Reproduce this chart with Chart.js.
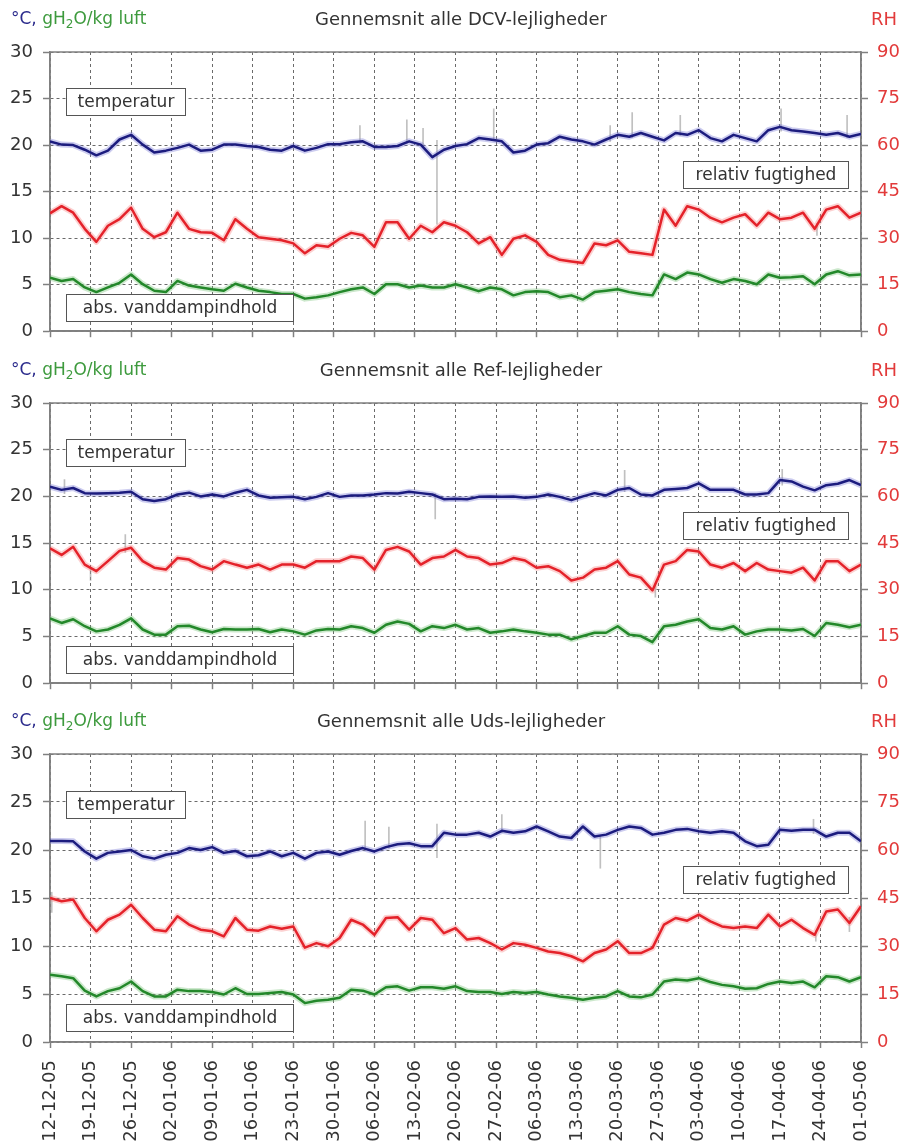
<!DOCTYPE html>
<html>
<head>
<meta charset="utf-8">
<title>Gennemsnit alle lejligheder</title>
<script src="https://cdn.jsdelivr.net/npm/chart.js@4.4.1/dist/chart.umd.min.js"></script>
<style>
  body { margin: 0; background: #fff; }
  #wrap { position: relative; width: 902px; height: 1147px; }
  #wrap canvas { position: absolute; left: 0; }
</style>
</head>
<body>
<div id="wrap">
  <canvas id="dcvChart" width="902" height="352" style="top:0"></canvas>
  <canvas id="refChart" width="902" height="352" style="top:352px"></canvas>
  <canvas id="udsChart" width="902" height="443" style="top:704px"></canvas>
</div>
<script>
// Week ticks on the shared time axis (one gridline every 7 days)
const weekLabels = ['12-12-05', '19-12-05', '26-12-05', '02-01-06', '09-01-06', '16-01-06', '23-01-06',
  '30-01-06', '06-02-06', '13-02-06', '20-02-06', '27-02-06', '06-03-06', '13-03-06', '20-03-06',
  '27-03-06', '03-04-06', '10-04-06', '17-04-06', '24-04-06', '01-05-06'];

// Readings are taken every 2nd day from 12-12-05
const STEP_DAYS = 2;

// DCV apartments: temperature (°C), RH (%), absolute humidity (g/kg)
const dcvTemp = [20.4, 20.05, 20.0, 19.5, 18.9, 19.4, 20.6, 21.1, 20.05, 19.2, 19.4, 19.7, 20.05, 19.4, 19.5, 20.05, 20.05, 19.9,
  19.8, 19.5, 19.4, 19.9, 19.4, 19.7, 20.1, 20.1, 20.3, 20.4, 19.8, 19.8, 19.9, 20.4, 20.05, 18.7, 19.5,
  19.9, 20.1, 20.75, 20.6, 20.4, 19.2, 19.4, 20.05, 20.2, 20.9, 20.6, 20.4, 20.05, 20.6, 21.1, 20.9, 21.3, 20.9,
  20.5, 21.3, 21.1, 21.6, 20.75, 20.4, 21.1, 20.75, 20.4, 21.6, 21.95, 21.6, 21.45, 21.3, 21.1, 21.3, 20.9, 21.2];
const dcvRH = [38, 40.3, 38.2, 33, 28.8, 34, 36.1, 39.8, 33, 30.3, 31.9, 38.2, 33, 31.9, 31.7, 29.3, 36.1, 33,
  30.3, 29.8, 29.3, 28.3, 25.1, 27.7, 27.2, 29.8, 31.7, 30.9, 27.2, 35.1, 35.1, 29.8, 34, 31.9, 35.1,
  34, 31.9, 28.3, 30.3, 24.6, 29.8, 30.9, 28.8, 24.6, 23, 22.5, 22, 28.3, 27.7, 29.3, 25.6, 25.1, 24.6,
  39.2, 34, 40.3, 39.2, 36.6, 35.1, 36.6, 37.7, 34, 38.2, 36.1, 36.6, 38.2, 33, 39.2, 40.3, 36.6, 38.2];
const dcvAbs = [5.75, 5.4, 5.6, 4.7, 4.2, 4.7, 5.2, 6.1, 5.05, 4.35, 4.2, 5.4, 4.9, 4.7, 4.5, 4.35, 5.1, 4.7,
  4.35, 4.2, 4.0, 4.0, 3.5, 3.65, 3.85, 4.2, 4.5, 4.7, 4.0, 5.05, 5.05, 4.7, 4.9, 4.7, 4.7,
  5.05, 4.7, 4.3, 4.7, 4.5, 3.85, 4.2, 4.3, 4.2, 3.65, 3.85, 3.4, 4.2, 4.35, 4.5, 4.2, 4.0, 3.85,
  6.1, 5.6, 6.3, 6.1, 5.6, 5.2, 5.6, 5.4, 5.05, 6.1, 5.75, 5.8, 5.9, 5.05, 6.1, 6.45, 6.0, 6.1];
// Raw-data spikes [day, low, high] on the °C axis
const dcvSpikes = [[53.5, 20.2, 22.1], [61.6, 20.2, 22.7], [64.4, 19.9, 21.8], [66.8, 11.5, 20.5],
  [76.6, 20.5, 23.9], [96.7, 20.4, 22.1], [100.5, 20.8, 23.5], [108.8, 21.0, 23.2], [126.2, 21.5, 23.9],
  [137.6, 20.8, 23.2], [132.4, 10.3, 11.6]];

// Reference apartments
const refTemp = [21.05, 20.7, 20.9, 20.35, 20.3, 20.35, 20.4, 20.5, 19.7, 19.5, 19.7, 20.2, 20.4, 20.0, 20.2, 20.0, 20.4, 20.7,
  20.1, 19.85, 19.9, 19.95, 19.7, 19.95, 20.35, 19.95, 20.1, 20.1, 20.2, 20.35, 20.3, 20.5, 20.35, 20.2, 19.7,
  19.75, 19.7, 19.95, 20.0, 19.95, 20.0, 19.85, 19.95, 20.2, 19.95, 19.6, 20.0, 20.35, 20.1, 20.7, 20.9, 20.2, 20.1,
  20.7, 20.8, 20.9, 21.4, 20.7, 20.7, 20.7, 20.2, 20.2, 20.35, 21.75, 21.6, 21.05, 20.65, 21.2, 21.35, 21.75, 21.2];
const refRH = [43.3, 41.2, 43.8, 38.1, 36, 39.2, 42.5, 43.5, 39.2, 37.1, 36.5, 40.2, 39.7, 37.6, 36.5, 39.2, 38.1, 37.1,
  38.1, 36.5, 38.1, 38.1, 37.1, 39.2, 39.2, 39.2, 40.7, 40.2, 36.5, 42.8, 43.8, 42.3, 38.1, 40.2, 40.7,
  42.8, 40.7, 40.2, 38.1, 38.6, 40.2, 39.4, 37.1, 37.6, 36, 33, 33.9, 36.5, 37.1, 39.2, 34.9, 33.9, 29.8,
  38.1, 39.2, 42.8, 42.3, 38.1, 37.1, 38.6, 36, 38.6, 36.5, 36, 35.5, 37.1, 33, 39.2, 39.2, 36, 38.1];
const refAbs = [6.95, 6.45, 6.85, 6.1, 5.55, 5.75, 6.25, 6.95, 5.75, 5.2, 5.2, 6.1, 6.15, 5.75, 5.45, 5.8, 5.75, 5.75,
  5.8, 5.45, 5.75, 5.55, 5.2, 5.65, 5.8, 5.75, 6.1, 5.9, 5.4, 6.25, 6.6, 6.35, 5.55, 6.1, 5.9,
  6.25, 5.75, 5.9, 5.4, 5.55, 5.75, 5.55, 5.4, 5.2, 5.2, 4.7, 5.05, 5.4, 5.4, 6.1, 5.2, 5.05, 4.4,
  6.1, 6.25, 6.6, 6.85, 5.9, 5.75, 6.1, 5.2, 5.55, 5.75, 5.75, 5.65, 5.8, 5.05, 6.45, 6.25, 6.0, 6.25];
const refSpikes = [[2.5, 20.3, 21.8], [13.0, 14.0, 15.9], [66.5, 17.6, 20.3], [99.2, 20.5, 22.8],
  [104.5, 9.2, 10.4], [126.4, 21.2, 22.9], [7.0, 11.0, 12.3]];

// Uds apartments
const udsTemp = [20.95, 20.95, 20.9, 19.85, 19.1, 19.7, 19.85, 20.0, 19.35, 19.1, 19.5, 19.7, 20.2, 20.0, 20.3, 19.7, 19.9, 19.35,
  19.45, 19.85, 19.35, 19.7, 19.1, 19.7, 19.85, 19.5, 19.9, 20.2, 19.85, 20.3, 20.6, 20.7, 20.4, 20.4, 21.8,
  21.6, 21.6, 21.8, 21.4, 22.0, 21.8, 21.95, 22.45, 21.95, 21.4, 21.25, 22.45, 21.4, 21.6, 22.1, 22.45, 22.3, 21.6,
  21.8, 22.1, 22.2, 21.95, 21.8, 21.95, 21.8, 20.9, 20.4, 20.55, 22.1, 22.0, 22.1, 22.1, 21.4, 21.8, 21.8, 20.9];
const udsRH = [45, 44, 44.5, 38.75, 34.6, 38.2, 39.8, 42.9, 38.75, 35.1, 34.6, 39.3, 36.7, 35.1, 34.6, 33, 38.75, 35.1,
  34.8, 36.1, 35.4, 36.1, 29.5, 30.9, 29.9, 32.5, 38.2, 36.7, 33.5, 38.75, 39, 35.1, 38.75, 38.2, 34,
  35.6, 32, 32.5, 30.9, 28.9, 30.9, 30.4, 29.4, 28.3, 27.8, 26.8, 25.2, 27.8, 28.9, 31.5, 27.8, 27.8, 29.4,
  36.7, 38.75, 37.9, 39.8, 37.7, 36.1, 35.6, 36.1, 35.6, 39.8, 36.1, 38.2, 35.6, 33.5, 40.8, 41.4, 37.2, 42.4];
const udsAbs = [7.0, 6.85, 6.65, 5.35, 4.75, 5.3, 5.6, 6.3, 5.3, 4.75, 4.75, 5.45, 5.3, 5.3, 5.2, 4.95, 5.6, 5.0,
  5.0, 5.1, 5.2, 4.95, 4.05, 4.3, 4.4, 4.6, 5.45, 5.35, 4.95, 5.7, 5.8, 5.35, 5.7, 5.7, 5.55,
  5.8, 5.3, 5.2, 5.2, 5.0, 5.2, 5.1, 5.2, 4.95, 4.75, 4.6, 4.4, 4.6, 4.75, 5.3, 4.75, 4.65, 4.95,
  6.3, 6.5, 6.4, 6.65, 6.25, 5.95, 5.8, 5.55, 5.6, 6.05, 6.3, 6.15, 6.3, 5.7, 6.85, 6.75, 6.3, 6.75];
const udsSpikes = [[0.3, 13.5, 15.6], [54.4, 20.0, 23.0], [58.5, 20.2, 22.4], [66.8, 19.2, 22.7],
  [78.0, 21.8, 23.7], [95.0, 18.1, 21.5], [131.8, 21.7, 23.2], [132.2, 10.5, 11.6], [138.0, 11.5, 13.0]];

const FONT = "'DejaVu Sans', Verdana, sans-serif";
const TEXT = '#333';
const GRID = '#6a6a6a';
const FRAME = '#808080';
const NAVY = '#1c1c7e';
const RED = '#e4222a';
const GREEN = '#23882a';

// Boxed series labels, placed in data space (x in days, top in °C-axis units)
const labelBoxes = [
  { text: 'temperatur', from: 2.8, to: 23.3, top: 26.1 },
  { text: 'relativ fugtighed', from: 109.3, to: 137.8, top: 18.3 },
  { text: 'abs. vanddampindhold', from: 2.8, to: 42.0, top: 4.0 }
];

function toPoints(values) {
  return values.map((v, i) => ({ x: i * STEP_DAYS, y: v }));
}

function series(values, axis, color, width, order) {
  return {
    data: toPoints(values),
    yAxisID: axis,
    borderColor: color,
    borderWidth: width,
    pointRadius: 0,
    tension: 0,
    borderJoinStyle: 'round',
    order: order
  };
}

// thin grey floating bars for the raw-data outliers
function spikes(list) {
  return {
    type: 'bar',
    data: list.map(s => ({ x: s[0], y: [s[1], s[2]] })),
    yAxisID: 'y',
    backgroundColor: 'rgba(150,150,150,0.6)',
    barThickness: 1,
    order: 8
  };
}

// Titles, unit labels, frame and boxed labels
const panelDecor = {
  id: 'panelDecor',
  beforeDatasetsDraw(chart) {
    const { ctx, chartArea: a } = chart;
    ctx.save();
    ctx.strokeStyle = FRAME;
    ctx.lineWidth = 1.5;
    ctx.strokeRect(a.left, a.top, a.right - a.left, a.bottom - a.top);
    ctx.restore();
  },
  afterDraw(chart, args, opts) {
    const { ctx, chartArea: a, scales } = chart;
    const headY = a.top - 32;
    ctx.save();
    ctx.textBaseline = 'middle';

    ctx.font = `18px ${FONT}`;
    ctx.fillStyle = TEXT;
    ctx.textAlign = 'center';
    ctx.fillText(opts.title, 461, headY);

    // "°C, gH2O/kg luft" with subscript
    ctx.textAlign = 'left';
    ctx.font = `17px ${FONT}`;
    let x = 11;
    ctx.fillStyle = '#2b2b8c';
    ctx.fillText('°C, ', x, headY);
    x += ctx.measureText('°C, ').width;
    ctx.fillStyle = '#3d9a3d';
    ctx.fillText('gH', x, headY);
    x += ctx.measureText('gH').width;
    ctx.font = `12px ${FONT}`;
    ctx.fillText('2', x, headY + 5);
    x += ctx.measureText('2').width;
    ctx.font = `17px ${FONT}`;
    ctx.fillText('O/kg luft', x, headY);

    ctx.font = `18px ${FONT}`;
    ctx.fillStyle = '#e23a3a';
    ctx.textAlign = 'right';
    ctx.fillText('RH', 897, headY);

    ctx.font = `17px ${FONT}`;
    ctx.textAlign = 'center';
    labelBoxes.forEach(b => {
      const x0 = Math.round(scales.x.getPixelForValue(b.from)) + 0.5;
      const x1 = Math.round(scales.x.getPixelForValue(b.to)) + 0.5;
      const y0 = Math.round(scales.y.getPixelForValue(b.top)) + 0.5;
      const h = 27;
      ctx.fillStyle = '#fff';
      ctx.fillRect(x0, y0, x1 - x0, h);
      ctx.strokeStyle = '#555';
      ctx.lineWidth = 1;
      ctx.strokeRect(x0, y0, x1 - x0, h);
      ctx.fillStyle = TEXT;
      ctx.fillText(b.text, (x0 + x1) / 2, y0 + h / 2 + 1);
    });
    ctx.restore();
  }
};

function makePanel(canvasId, title, temp, rh, abs, raw, showDates, topPad, xHeight) {
  const tickFont = { family: FONT, size: 18 };
  return new Chart(document.getElementById(canvasId), {
    type: 'line',
    data: {
      datasets: [
        series(temp, 'y', NAVY, 2.5, 0),
        series(rh, 'y2', RED, 2.5, 0),
        series(abs, 'y', GREEN, 2.5, 0),
        series(temp, 'y', 'rgba(110,110,210,0.35)', 6, 5),
        series(rh, 'y2', 'rgba(245,120,120,0.35)', 6, 5),
        series(abs, 'y', 'rgba(110,190,110,0.35)', 6, 5),
        spikes(raw)
      ]
    },
    options: {
      responsive: false,
      animation: false,
      events: [],
      layout: { padding: { top: topPad, left: 0, right: 0, bottom: 0 } },
      plugins: {
        legend: { display: false },
        tooltip: { enabled: false },
        panelDecor: { title: title }
      },
      scales: {
        x: {
          type: 'linear',
          min: 0,
          max: 140,
          offset: false,
          afterBuildTicks: scale => {
            scale.ticks = weekLabels.map((_, i) => ({ value: i * 7 }));
          },
          afterFit: scale => { scale.height = xHeight; },
          ticks: {
            display: showDates,
            autoSkip: false,
            minRotation: 90,
            maxRotation: 90,
            padding: 12,
            color: TEXT,
            font: tickFont,
            callback: v => weekLabels[Math.round(v / 7)]
          },
          grid: { offset: false, color: GRID, lineWidth: 1, tickLength: 6, tickColor: FRAME, tickWidth: 1.5 },
          border: { color: FRAME, width: 1.5, dash: [3, 3] }
        },
        y: {
          position: 'left',
          min: 0,
          max: 30,
          afterFit: scale => { scale.width = 50; },
          ticks: { stepSize: 5, padding: 10, color: TEXT, font: tickFont },
          grid: { color: GRID, lineWidth: 1, tickLength: 7, tickColor: FRAME, tickWidth: 1.5 },
          border: { color: FRAME, width: 1.5, dash: [3, 3] }
        },
        y2: {
          position: 'right',
          min: 0,
          max: 90,
          afterFit: scale => { scale.width = 41; },
          ticks: { stepSize: 15, padding: 9, color: '#e23a3a', font: tickFont },
          grid: { drawOnChartArea: false, tickLength: 7, tickColor: FRAME, tickWidth: 1.5 },
          border: { color: FRAME, width: 1.5 }
        }
      }
    },
    plugins: [panelDecor]
  });
}

makePanel('dcvChart', 'Gennemsnit alle DCV-lejligheder', dcvTemp, dcvRH, dcvAbs, dcvSpikes, false, 52, 14);
makePanel('refChart', 'Gennemsnit alle Ref-lejligheder', refTemp, refRH, refAbs, refSpikes, false, 51, 14);
makePanel('udsChart', 'Gennemsnit alle Uds-lejligheder', udsTemp, udsRH, udsAbs, udsSpikes, true, 50, 105);
</script>
</body>
</html>
